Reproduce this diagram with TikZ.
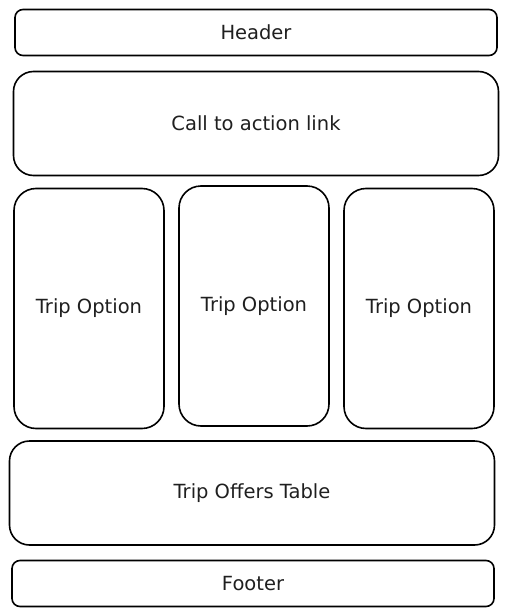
\documentclass[tikz,border=0pt]{standalone}
\usepackage{tikz}
\usepackage{fontspec}
\setmainfont{DejaVu Sans}

\begin{document}
\begin{tikzpicture}[x=1pt, y=-1pt,
  every node/.style={draw, line width=1.6pt, rounded corners=9pt, inner sep=0pt, text=black!88, font=\fontsize{19.5}{23}\selectfont},
  bar/.style={minimum width=482pt, minimum height=46pt, rounded corners=8pt},
  block/.style={minimum width=485pt, minimum height=104pt, rounded corners=20pt},
  card/.style={minimum width=150pt, minimum height=240pt, rounded corners=22pt}]

\useasboundingbox (0,0) rectangle (507,616);

% Top
\node[bar] (header) at (256,32.5) {Header};
\node[block] (cta) at (256,123.5) {Call to action link};

% Trip options
\node[card] (opt1) at (89,308.5) {Trip Option};
\node[card] (opt2) at (254,306) {Trip Option};
\node[card] (opt3) at (419,308.5) {Trip Option};

% Bottom
\node[block] (offers) at (252,493) {Trip Offers Table};
\node[bar] (footer) at (253,583.5) {Footer};

\end{tikzpicture}
\end{document}
